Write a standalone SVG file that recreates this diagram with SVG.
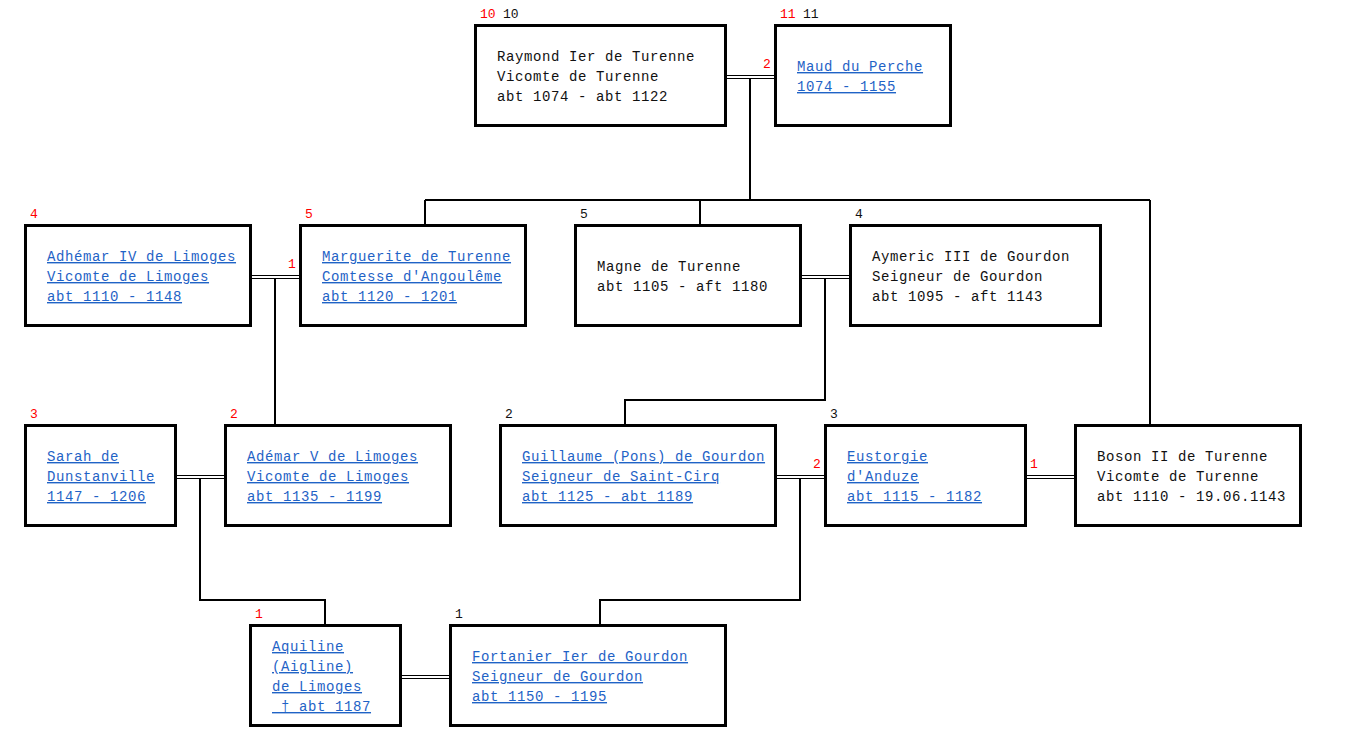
<svg xmlns="http://www.w3.org/2000/svg" width="1351" height="751" viewBox="0 0 1351 751">
<style>
.box{fill:#fff;stroke:#000;stroke-width:3}
.t{font-family:"Liberation Mono","Courier New",monospace;font-size:14px;letter-spacing:0.6px;fill:#111;white-space:pre}
.l{fill:#1f63c6;text-decoration:underline}
.n{font-family:"Liberation Mono","Courier New",monospace;font-size:13px;fill:#111}
.r{fill:#ff0000}
.c{fill:none;stroke:#000;stroke-width:2}
.d{fill:none;stroke:#000;stroke-width:1}
</style>
<rect width="1351" height="751" fill="#fff"/>
<g id="connectors">
<path class="d" d="M725 75.5H775M725 78.5H775"/>
<path class="c" d="M750 78V200M425 200H1150M425 200V225M700 200V225M1150 200V425"/>
<path class="d" d="M250 275.5H300M250 278.5H300"/>
<path class="c" d="M275 278V425"/>
<path class="d" d="M800 275.5H850M800 278.5H850"/>
<path class="c" d="M825 278V400H625V425"/>
<path class="d" d="M175 475.5H225M175 478.5H225"/>
<path class="c" d="M200 478V600H325V625"/>
<path class="d" d="M775 475.5H825M775 478.5H825"/>
<path class="c" d="M800 478V600H600V625"/>
<path class="d" d="M1025 475.5H1075M1025 478.5H1075"/>
<path class="d" d="M400 675.5H450M400 678.5H450"/>
<text class="n r" x="763" y="68">2</text>
<text class="n r" x="288" y="268">1</text>
<text class="n r" x="813" y="468">2</text>
<text class="n r" x="1030" y="468">1</text>
</g>
<g id="raymond">
<rect class="box" x="475.5" y="25.5" width="250" height="100"/>
<text class="n r" x="480" y="18">10</text><text class="n" x="503" y="18">10</text>
<text class="t" x="497" y="61">Raymond Ier de Turenne</text>
<text class="t" x="497" y="81">Vicomte de Turenne</text>
<text class="t" x="497" y="101">abt 1074 - abt 1122</text>
</g>
<g id="maud">
<rect class="box" x="775.5" y="25.5" width="175" height="100"/>
<text class="n r" x="780" y="18">11</text><text class="n" x="803" y="18">11</text>
<text class="t l" x="797" y="71">Maud du Perche</text>
<text class="t l" x="797" y="91">1074 - 1155</text>
</g>
<g id="adhemar4">
<rect class="box" x="25.5" y="225.5" width="225" height="100"/>
<text class="n r" x="30" y="218">4</text>
<text class="t l" x="47" y="261">Adhémar IV de Limoges</text>
<text class="t l" x="47" y="281">Vicomte de Limoges</text>
<text class="t l" x="47" y="301">abt 1110 - 1148</text>
</g>
<g id="marguerite">
<rect class="box" x="300.5" y="225.5" width="225" height="100"/>
<text class="n r" x="305" y="218">5</text>
<text class="t l" x="322" y="261">Marguerite de Turenne</text>
<text class="t l" x="322" y="281">Comtesse d'Angoulême</text>
<text class="t l" x="322" y="301">abt 1120 - 1201</text>
</g>
<g id="magne">
<rect class="box" x="575.5" y="225.5" width="225" height="100"/>
<text class="n" x="580" y="218">5</text>
<text class="t" x="597" y="271">Magne de Turenne</text>
<text class="t" x="597" y="291">abt 1105 - aft 1180</text>
</g>
<g id="aymeric">
<rect class="box" x="850.5" y="225.5" width="250" height="100"/>
<text class="n" x="855" y="218">4</text>
<text class="t" x="872" y="261">Aymeric III de Gourdon</text>
<text class="t" x="872" y="281">Seigneur de Gourdon</text>
<text class="t" x="872" y="301">abt 1095 - aft 1143</text>
</g>
<g id="sarah">
<rect class="box" x="25.5" y="425.5" width="150" height="100"/>
<text class="n r" x="30" y="418">3</text>
<text class="t l" x="47" y="461">Sarah de</text>
<text class="t l" x="47" y="481">Dunstanville</text>
<text class="t l" x="47" y="501">1147 - 1206</text>
</g>
<g id="ademar5">
<rect class="box" x="225.5" y="425.5" width="225" height="100"/>
<text class="n r" x="230" y="418">2</text>
<text class="t l" x="247" y="461">Adémar V de Limoges</text>
<text class="t l" x="247" y="481">Vicomte de Limoges</text>
<text class="t l" x="247" y="501">abt 1135 - 1199</text>
</g>
<g id="guillaume">
<rect class="box" x="500.5" y="425.5" width="275" height="100"/>
<text class="n" x="505" y="418">2</text>
<text class="t l" x="522" y="461">Guillaume (Pons) de Gourdon</text>
<text class="t l" x="522" y="481">Seigneur de Saint-Cirq</text>
<text class="t l" x="522" y="501">abt 1125 - abt 1189</text>
</g>
<g id="eustorgie">
<rect class="box" x="825.5" y="425.5" width="200" height="100"/>
<text class="n" x="830" y="418">3</text>
<text class="t l" x="847" y="461">Eustorgie</text>
<text class="t l" x="847" y="481">d'Anduze</text>
<text class="t l" x="847" y="501">abt 1115 - 1182</text>
</g>
<g id="boson">
<rect class="box" x="1075.5" y="425.5" width="225" height="100"/>
<text class="t" x="1097" y="461">Boson II de Turenne</text>
<text class="t" x="1097" y="481">Vicomte de Turenne</text>
<text class="t" x="1097" y="501">abt 1110 - 19.06.1143</text>
</g>
<g id="aquiline">
<rect class="box" x="250.5" y="625.5" width="150" height="100"/>
<text class="n r" x="255" y="618">1</text>
<text class="t l" x="272" y="651">Aquiline</text>
<text class="t l" x="272" y="671">(Aigline)</text>
<text class="t l" x="272" y="691">de Limoges</text>
<text class="t l" x="272" y="711"> † abt 1187</text>
</g>
<g id="fortanier">
<rect class="box" x="450.5" y="625.5" width="275" height="100"/>
<text class="n" x="455" y="618">1</text>
<text class="t l" x="472" y="661">Fortanier Ier de Gourdon</text>
<text class="t l" x="472" y="681">Seigneur de Gourdon</text>
<text class="t l" x="472" y="701">abt 1150 - 1195</text>
</g>
</svg>
